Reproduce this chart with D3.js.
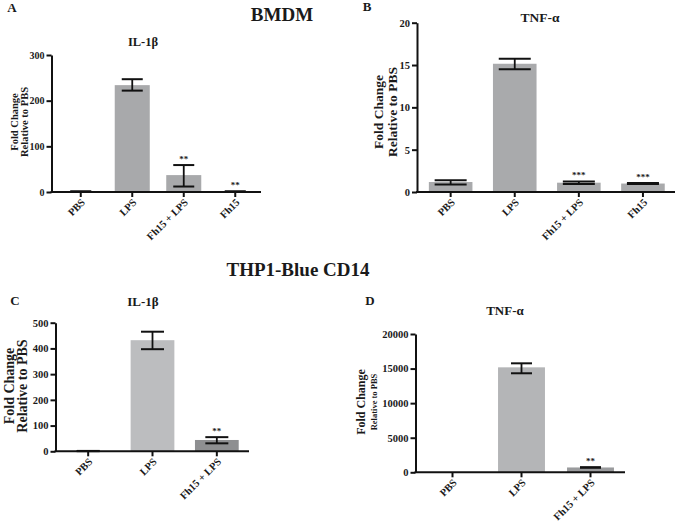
<!DOCTYPE html>
<html>
<head>
<meta charset="utf-8">
<script src="https://cdn.jsdelivr.net/npm/d3@7"></script>
<style>
  html, body { margin: 0; padding: 0; background: #fff; }
  svg { display: block; }
  text { font-family: "Liberation Serif", "Times New Roman", serif; font-weight: bold; fill: #1a1a1a; }
</style>
</head>
<body>
<svg id="chart" width="675" height="527"></svg>
<script>
// ---------------- DATA ----------------
const catsBMDM = ["PBS", "LPS", "Fh15 + LPS", "Fh15"];
const catsTHP = ["PBS", "LPS", "Fh15 + LPS"];

// Panel A: BMDM IL-1β
const aValues = [1, 234, 37, 1];
const aErrLow = [0.5, 222, 12, 0.5];
const aErrHigh = [1.5, 247, 59, 1.5];
const aStars = ["", "", "**", "**"];
const aTicks = [0, 100, 200, 300];

// Panel B: BMDM TNF-α
const bValues = [1.18, 15.15, 1.1, 1.0];
const bErrLow = [0.9, 14.5, 0.95, 0.95];
const bErrHigh = [1.38, 15.75, 1.25, 1.05];
const bStars = ["", "", "***", "***"];
const bTicks = [0, 5, 10, 15, 20];

// Panel C: THP1-Blue CD14 IL-1β
const cValues = [1, 432, 44];
const cErrLow = [0.5, 397, 31];
const cErrHigh = [1.5, 465, 55];
const cStars = ["", "", "**"];
const cTicks = [0, 100, 200, 300, 400, 500];

// Panel D: THP1-Blue CD14 TNF-α
const dValues = [1, 15180, 700];
const dErrLow = [1, 14320, 660];
const dErrHigh = [1, 15760, 740];
const dStars = ["", "", "**"];
const dTicks = [0, 5000, 10000, 15000, 20000];

// ---------------- DRAW ----------------
const svg = d3.select("#chart");

function panel(cfg) {
  const g = svg.append("g");
  const x = d3.scaleBand().domain(cfg.cats).range([cfg.xStart, cfg.xEnd])
    .paddingInner(0.32).paddingOuter(0.16);
  const y = d3.scaleLinear().domain([0, d3.max(cfg.ticks)]).range([cfg.y0, cfg.yTop]);

  // bars
  g.selectAll("rect.bar").data(cfg.values).join("rect")
    .attr("class", "bar")
    .attr("x", (d, i) => x(cfg.cats[i]))
    .attr("width", x.bandwidth())
    .attr("y", d => y(d))
    .attr("height", d => Math.max(0, y(0) - y(d)))
    .attr("fill", (d, i) => cfg.colors[i]);

  // error bars
  cfg.values.forEach((v, i) => {
    const cx = x(cfg.cats[i]) + x.bandwidth() / 2;
    const lo = cfg.errLow[i], hi = cfg.errHigh[i];
    if (hi - lo <= 0) return;
    const w = cfg.cap / 2;
    g.append("line").attr("x1", cx).attr("x2", cx).attr("y1", y(lo)).attr("y2", y(hi))
      .attr("stroke", "#111").attr("stroke-width", 1.8);
    [lo, hi].forEach(val => {
      g.append("line").attr("x1", cx - w).attr("x2", cx + w).attr("y1", y(val)).attr("y2", y(val))
        .attr("stroke", "#111").attr("stroke-width", 2);
    });
    if (cfg.stars[i]) {
      g.append("text").attr("x", cx).attr("y", y(hi) - 3)
        .attr("text-anchor", "middle").attr("font-size", 9).text(cfg.stars[i]);
    }
  });

  // y axis
  const ya = g.append("g").attr("transform", `translate(${cfg.axisX},0)`)
    .call(d3.axisLeft(y).tickValues(cfg.ticks).tickSize(5).tickSizeOuter(0).tickPadding(2).tickFormat(d3.format("d")));
  ya.select(".domain").attr("stroke", "#111").attr("stroke-width", 2);
  ya.selectAll(".tick line").attr("stroke", "#111").attr("stroke-width", 2);
  ya.selectAll(".tick text").attr("font-size", cfg.tickFont).attr("font-family", "Liberation Serif, serif")
    .attr("font-weight", "bold").attr("fill", "#1a1a1a");

  // x axis
  const xa = g.append("g").attr("transform", `translate(0,${cfg.y0})`)
    .call(d3.axisBottom(x).tickSize(5).tickSizeOuter(0).tickFormat(""));
  xa.select(".domain").remove();
  xa.selectAll(".tick line").attr("stroke", "#111").attr("stroke-width", 2);
  g.append("line").attr("x1", cfg.axisX - 1).attr("x2", cfg.xEnd).attr("y1", cfg.y0).attr("y2", cfg.y0)
    .attr("stroke", "#111").attr("stroke-width", 2);

  // x labels
  cfg.cats.forEach(c => {
    const cx = x(c) + x.bandwidth() / 2;
    g.append("text")
      .attr("transform", `translate(${cx + 5},${cfg.y0 + 11}) rotate(-45)`)
      .attr("text-anchor", "end").attr("font-size", 10.5).text(c);
  });

  // y title
  g.append("text")
    .attr("transform", `translate(${cfg.yt1x},${cfg.ytY}) rotate(-90)`)
    .attr("text-anchor", "middle").attr("font-size", cfg.yt1Font).text("Fold Change");
  g.append("text")
    .attr("transform", `translate(${cfg.yt2x},${cfg.ytY}) rotate(-90)`)
    .attr("text-anchor", "middle").attr("font-size", cfg.yt2Font).text("Relative to PBS");

  // panel title + letter
  g.append("text").attr("x", cfg.titleX).attr("y", cfg.titleY).attr("text-anchor", "middle")
    .attr("font-size", cfg.titleFont).text(cfg.title);
  g.append("text").attr("x", cfg.letterX).attr("y", cfg.letterY).attr("text-anchor", "middle")
    .attr("font-size", 13).text(cfg.letter);
}

panel({
  cats: catsBMDM, values: aValues, errLow: aErrLow, errHigh: aErrHigh, stars: aStars, ticks: aTicks,
  colors: ["#a8a9ab", "#a8a9ab", "#a8a9ab", "#a8a9ab"],
  axisX: 51.5, xStart: 55, xEnd: 261, y0: 192, yTop: 55, cap: 21, tickFont: 10,
  yt1x: 18, yt2x: 28, ytY: 122, yt1Font: 10.5, yt2Font: 10.5,
  title: "IL-1β", titleX: 143, titleY: 46, titleFont: 12.5, letter: "A", letterX: 12, letterY: 12
});

panel({
  cats: catsBMDM, values: bValues, errLow: bErrLow, errHigh: bErrHigh, stars: bStars, ticks: bTicks,
  colors: ["#a9aaac", "#a9aaac", "#a9aaac", "#a9aaac"],
  axisX: 417, xStart: 418.6, xEnd: 675, y0: 192, yTop: 22.7, cap: 32, tickFont: 10.5,
  yt1x: 383, yt2x: 397, ytY: 112, yt1Font: 13.5, yt2Font: 13.5,
  title: "TNF-α", titleX: 540, titleY: 22, titleFont: 13.5, letter: "B", letterX: 367, letterY: 11
});

panel({
  cats: catsTHP, values: cValues, errLow: cErrLow, errHigh: cErrHigh, stars: cStars, ticks: cTicks,
  colors: ["#bcbdbf", "#bcbdbf", "#8e8f91"],
  axisX: 55.5, xStart: 56, xEnd: 249, y0: 451.3, yTop: 322.7, cap: 23, tickFont: 10.5,
  yt1x: 14, yt2x: 27, ytY: 386, yt1Font: 14, yt2Font: 14,
  title: "IL-1β", titleX: 143, titleY: 306, titleFont: 13, letter: "C", letterX: 15, letterY: 305
});

panel({
  cats: catsTHP, values: dValues, errLow: dErrLow, errHigh: dErrHigh, stars: dStars, ticks: dTicks,
  colors: ["#b4b5b7", "#b4b5b7", "#9a9b9d"],
  axisX: 415.5, xStart: 418, xEnd: 625, y0: 472.3, yTop: 334, cap: 21, tickFont: 10.5,
  yt1x: 365, yt2x: 377, ytY: 402, yt1Font: 12, yt2Font: 8.5,
  title: "TNF-α", titleX: 505, titleY: 315, titleFont: 13, letter: "D", letterX: 370, letterY: 305
});

// group titles
svg.append("text").attr("x", 282).attr("y", 21).attr("text-anchor", "middle")
  .attr("font-size", 19).text("BMDM");
svg.append("text").attr("x", 298).attr("y", 276).attr("text-anchor", "middle")
  .attr("font-size", 19).text("THP1-Blue CD14");
</script>
</body>
</html>
